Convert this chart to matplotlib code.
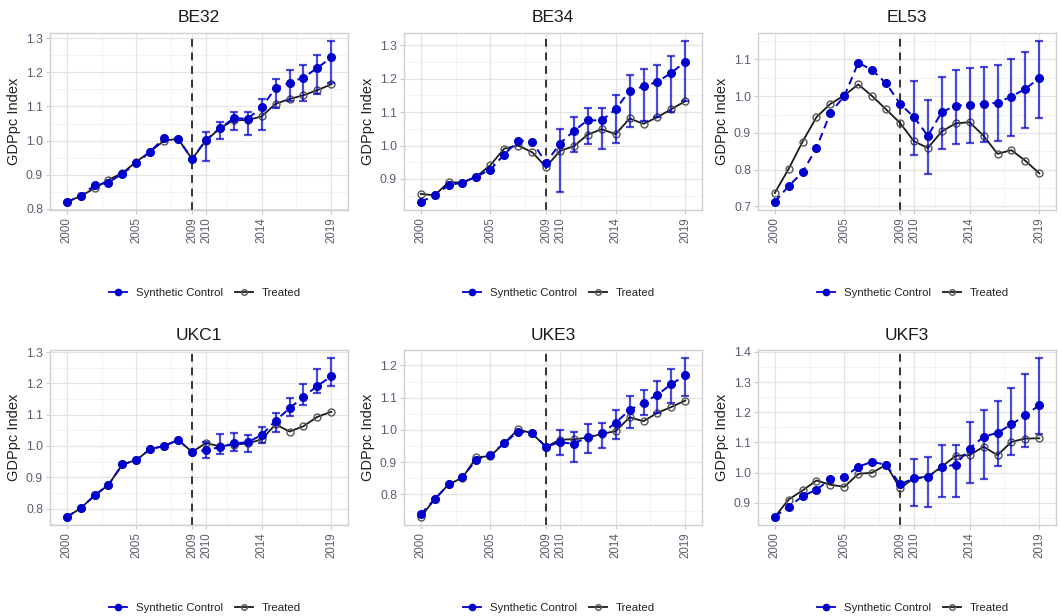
import numpy as np
import matplotlib
matplotlib.use("Agg")
import matplotlib.pyplot as plt
from matplotlib.lines import Line2D
from matplotlib.ticker import FormatStrFormatter

plt.rcParams['font.family'] = ['Liberation Sans', 'DejaVu Sans']

years = np.arange(2000, 2020)
post_years = np.arange(2010, 2020)
treat_year = 2009
xticks = [2000, 2005, 2009, 2010, 2014, 2019]

regions = ["BE32", "BE34", "EL53", "UKC1", "UKE3", "UKF3"]

# synthetic control path (2000-2019)
synth_be32 = [0.820, 0.837, 0.869, 0.877, 0.903, 0.933, 0.968, 1.008, 1.005, 0.946,
              1.002, 1.036, 1.066, 1.064, 1.098, 1.154, 1.170, 1.185, 1.213, 1.244]
synth_be34 = [0.831, 0.851, 0.881, 0.889, 0.907, 0.928, 0.973, 1.015, 1.012, 0.948,
              1.006, 1.044, 1.076, 1.075, 1.109, 1.164, 1.177, 1.191, 1.218, 1.251]
synth_el53 = [0.712, 0.755, 0.793, 0.859, 0.955, 1.000, 1.091, 1.071, 1.035, 0.979,
              0.943, 0.892, 0.957, 0.974, 0.977, 0.979, 0.982, 0.999, 1.020, 1.049]
synth_ukc1 = [0.773, 0.801, 0.842, 0.876, 0.941, 0.955, 0.990, 1.000, 1.019, 0.981,
              0.987, 0.996, 1.008, 1.012, 1.035, 1.081, 1.120, 1.157, 1.192, 1.222]
synth_uke3 = [0.739, 0.785, 0.831, 0.854, 0.908, 0.923, 0.959, 0.995, 0.989, 0.948,
              0.962, 0.957, 0.978, 0.989, 1.022, 1.062, 1.084, 1.109, 1.142, 1.169]
synth_ukf3 = [0.854, 0.887, 0.922, 0.944, 0.978, 0.986, 1.020, 1.036, 1.026, 0.962,
              0.981, 0.985, 1.018, 1.027, 1.080, 1.119, 1.132, 1.160, 1.190, 1.224]

# observed (treated) path
treated_be32 = [0.820, 0.837, 0.860, 0.885, 0.905, 0.938, 0.968, 1.000, 1.005, 0.946,
                1.000, 1.036, 1.060, 1.060, 1.071, 1.108, 1.122, 1.133, 1.148, 1.165]
treated_be34 = [0.855, 0.851, 0.890, 0.889, 0.907, 0.941, 0.991, 1.000, 0.980, 0.936,
                0.984, 0.998, 1.033, 1.049, 1.034, 1.081, 1.065, 1.085, 1.109, 1.133]
treated_el53 = [0.736, 0.802, 0.876, 0.943, 0.979, 1.002, 1.032, 1.000, 0.964, 0.927,
                0.877, 0.859, 0.904, 0.926, 0.929, 0.892, 0.843, 0.853, 0.824, 0.790]
treated_ukc1 = [0.773, 0.801, 0.842, 0.876, 0.941, 0.955, 0.990, 1.000, 1.019, 0.981,
                1.009, 0.999, 1.004, 1.008, 1.021, 1.069, 1.046, 1.063, 1.093, 1.109]
treated_uke3 = [0.730, 0.785, 0.831, 0.852, 0.915, 0.919, 0.959, 1.002, 0.989, 0.947,
                0.970, 0.971, 0.976, 0.988, 0.996, 1.039, 1.027, 1.053, 1.071, 1.091]
treated_ukf3 = [0.853, 0.911, 0.941, 0.974, 0.960, 0.953, 0.996, 1.000, 1.026, 0.948,
                0.982, 0.987, 1.020, 1.056, 1.058, 1.086, 1.058, 1.102, 1.113, 1.114]

# confidence bounds for the post-treatment years (2010-2019)
upper_be32 = [1.024, 1.054, 1.085, 1.083, 1.123, 1.182, 1.207, 1.221, 1.251, 1.292]
lower_be32 = [0.941, 1.005, 1.031, 1.017, 1.032, 1.095, 1.115, 1.115, 1.138, 1.170]
upper_be34 = [1.049, 1.086, 1.113, 1.111, 1.150, 1.211, 1.229, 1.242, 1.269, 1.313]
lower_be34 = [0.861, 0.982, 1.006, 0.991, 1.007, 1.057, 1.074, 1.084, 1.099, 1.134]
upper_el53 = [1.040, 0.990, 1.053, 1.072, 1.076, 1.079, 1.084, 1.101, 1.120, 1.150]
lower_el53 = [0.839, 0.787, 0.855, 0.870, 0.872, 0.874, 0.877, 0.892, 0.913, 0.940]
upper_ukc1 = [1.014, 1.037, 1.042, 1.035, 1.060, 1.106, 1.152, 1.198, 1.246, 1.281]
lower_ukc1 = [0.962, 0.975, 0.984, 0.982, 1.009, 1.046, 1.097, 1.130, 1.168, 1.190]
upper_uke3 = [1.001, 0.994, 1.017, 1.022, 1.063, 1.106, 1.124, 1.152, 1.189, 1.223]
lower_uke3 = [0.921, 0.900, 0.929, 0.943, 0.972, 1.007, 1.045, 1.053, 1.084, 1.104]
upper_ukf3 = [1.045, 1.053, 1.090, 1.091, 1.167, 1.209, 1.237, 1.282, 1.327, 1.380]
lower_ukf3 = [0.888, 0.886, 0.918, 0.919, 0.967, 0.979, 1.023, 1.059, 1.086, 1.127]

synth = [synth_be32, synth_be34, synth_el53, synth_ukc1, synth_uke3, synth_ukf3]
treated = [treated_be32, treated_be34, treated_el53, treated_ukc1, treated_uke3, treated_ukf3]
upper = [upper_be32, upper_be34, upper_el53, upper_ukc1, upper_uke3, upper_ukf3]
lower = [lower_be32, lower_be34, lower_el53, lower_ukc1, lower_uke3, lower_ukf3]

BLUE = '#0000CC'
TICK_COL = '#5c5c6e'
W, H = 1062, 616
fig = plt.figure(figsize=(W / 100, H / 100), dpi=100)

col_left = [50, 404, 758]
row_top = [33, 350]
row_h = [177, 175]
ax_w = 298

for i, name in enumerate(regions):
    r, c = divmod(i, 3)
    left, top, h = col_left[c], row_top[r], row_h[r]
    ax = fig.add_axes([left / W, 1 - (top + h) / H, ax_w / W, h / H])

    s = np.array(synth[i])
    t = np.array(treated[i])
    up = np.array(upper[i])
    lo = np.array(lower[i])
    post = s[years >= 2010]

    ax.plot(years, t, color='#1a1a1a', lw=1.3, zorder=3,
            marker='o', ms=5, mfc='none', mec='#555555', mew=1.0)
    ax.plot(years, s, color=BLUE, lw=1.4, ls=(0, (4, 2.6)), zorder=4,
            marker='o', ms=5.5, mfc=BLUE, mec=BLUE)
    ax.errorbar(post_years, post, yerr=[post - lo, up - post], fmt='none',
                ecolor=BLUE, alpha=0.7, elinewidth=1.6, capsize=3.2,
                capthick=1.6, zorder=5)
    ax.axvline(treat_year, color='#333333', lw=1.4, ls=(0, (4, 3)), zorder=2)

    vals = np.concatenate([s, t, up, lo])
    vmin, vmax = vals.min(), vals.max()
    pad = 0.05 * (vmax - vmin)

    ymaj = np.round(np.arange(0.7, 1.45, 0.1), 1)
    ymaj = ymaj[(ymaj >= vmin - pad) & (ymaj <= vmax + pad)]
    ax.set_yticks(ymaj)
    ax.set_yticks(np.arange(0.65, 1.45, 0.1), minor=True)
    ax.set_xticks(xticks)
    ax.set_xticks([2002.5, 2007.5, 2011.5, 2016.5], minor=True)
    ax.set_xticklabels([str(x) for x in xticks], rotation=90)
    ax.yaxis.set_major_formatter(FormatStrFormatter('%.1f'))
    ax.set_ylim(vmin - pad, vmax + pad)
    ax.set_xlim(1998.8, 2020.2)

    ax.grid(which='major', color='#e4e4e4', lw=0.9, zorder=0)
    ax.grid(which='minor', color='#f1f1f1', lw=0.6, zorder=0)
    ax.set_axisbelow(True)
    for sp in ax.spines.values():
        sp.set_color('#d0d0d0')
        sp.set_linewidth(1.0)
    ax.tick_params(which='major', length=3, color='#c8c8c8', labelcolor=TICK_COL,
                   labelsize=8.8, pad=2)
    ax.tick_params(which='minor', length=0)
    ax.tick_params(axis='x', labelsize=8.3)

    ax.set_ylabel("GDPpc Index", fontsize=10.5, color='#222222')
    ax.yaxis.set_label_coords(-0.097, 0.5)
    ax.text(0.5, 1 + 15 / h, name, transform=ax.transAxes, ha='center',
            va='center', fontsize=12.5, color='#1a1a1a')

    handles = [
        Line2D([], [], color=BLUE, lw=1.3, marker='o', ms=4.5, mfc=BLUE, mec=BLUE),
        Line2D([], [], color='#1a1a1a', lw=1.3, marker='o', ms=4, mfc='none',
               mec='#555555'),
    ]
    ax.legend(handles, ["Synthetic Control", "Treated"], loc='center',
              bbox_to_anchor=(0.52, -83 / h), ncol=2, frameon=False,
              fontsize=8.2, handlelength=1.6, handletextpad=0.8,
              columnspacing=1.0, labelcolor='#222222')

fig.savefig("out.png", dpi=100, facecolor='white')
